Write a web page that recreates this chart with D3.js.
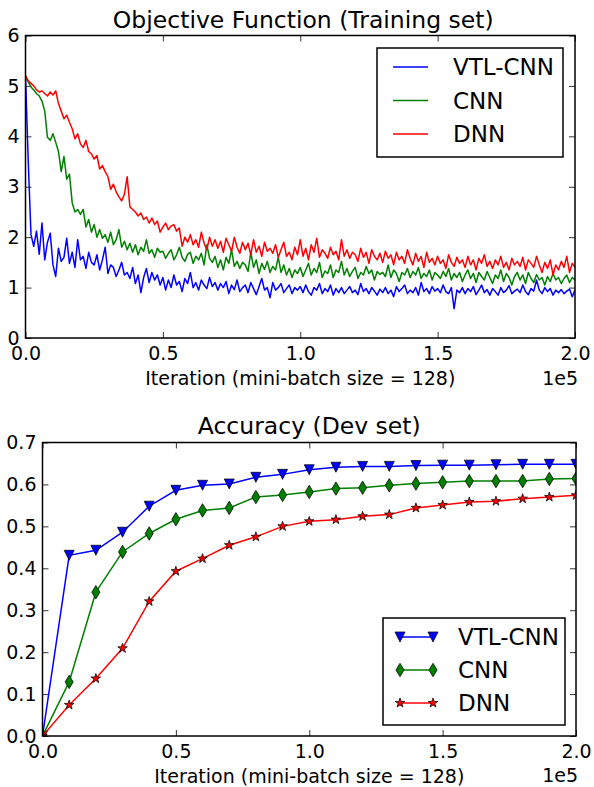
<!DOCTYPE html>
<html>
<head>
<meta charset="utf-8">
<style>
body { margin: 0; background: #fff; }
svg { display: block; }
</style>
</head>
<body>
<svg></svg>
<script src="https://cdn.jsdelivr.net/npm/d3@7"></script>
<script>
// training loss, one value every 1000 iterations (0 .. 200000)
var lossStep = 1000;
var vtlLoss = [
  5.20, 3.50, 2.05, 1.82, 2.12, 1.66, 2.28, 1.55, 1.90, 2.08,
  1.45, 1.22, 1.78, 1.52, 1.60, 1.98, 1.48, 1.70, 1.40, 1.95,
  1.55, 1.62, 1.38, 1.70, 1.50, 1.45, 1.65, 1.35, 1.55, 1.80,
  1.28, 1.45, 1.40, 1.22, 1.35, 1.50, 1.25, 1.30, 1.18, 1.40,
  1.08, 1.25, 0.90, 1.20, 1.38, 1.10, 1.30, 1.15, 1.25, 1.05,
  1.20, 0.95, 1.15, 1.00, 1.25, 1.05, 1.12, 0.92, 1.18, 1.08,
  1.30, 1.00, 1.10, 0.95, 1.15, 1.05, 0.98, 1.20, 1.02, 1.10,
  0.95, 1.08, 1.00, 1.12, 0.88, 1.05, 0.96, 1.15, 0.92, 1.00,
  1.05, 0.90, 1.10, 0.98, 0.86, 1.02, 1.18, 0.95, 1.00, 0.80,
  1.10, 0.95, 1.00, 1.08, 0.90, 0.98, 1.05, 0.88, 1.00, 0.95,
  1.02, 0.90, 1.05, 0.92, 0.85, 1.00, 0.95, 1.08, 0.88, 0.98,
  0.92, 1.05, 0.85, 0.98, 0.90, 1.00, 0.88, 0.95, 1.02, 0.90,
  0.95, 0.86, 1.08, 0.92, 0.98, 0.88, 1.00, 0.93, 0.85, 0.97,
  0.90, 1.00, 0.88, 0.95, 0.82, 1.02, 0.92, 0.98, 1.05, 0.88,
  0.95, 0.90, 1.00, 0.85, 1.10, 0.92, 0.98, 0.88, 1.02, 0.93,
  0.98, 0.90, 1.05, 0.92, 0.88, 1.00, 0.58, 0.95, 0.90, 1.00,
  0.88, 0.98, 0.92, 1.02, 0.86, 0.95, 1.05, 0.90, 0.96, 0.85,
  0.98, 0.92, 0.85, 1.00, 0.90, 0.95, 1.04, 0.88, 0.93, 0.97,
  0.90, 1.05, 0.92, 0.86, 0.98, 0.93, 1.15, 0.95, 0.88, 1.00,
  0.92, 0.98, 0.85, 0.95, 0.90, 0.96, 0.88, 0.93, 0.97, 0.82,
  0.95
];
var cnnLoss = [
  5.20, 5.08, 4.98, 4.92, 4.85, 4.80, 4.70, 4.50, 3.98, 3.92,
  4.05, 3.88, 3.70, 3.30, 3.60, 3.15, 3.25, 2.68, 2.50, 2.55,
  2.45, 2.55, 2.20, 2.35, 2.10, 2.25, 2.00, 2.15, 1.98, 2.05,
  1.90, 2.10, 1.85, 1.95, 2.15, 1.80, 1.92, 1.75, 1.88, 1.70,
  1.85, 1.65, 1.80, 1.72, 1.95, 1.68, 1.75, 1.60, 1.78, 1.70,
  1.72, 1.58, 1.68, 1.75, 1.55, 1.65, 1.80, 1.60, 1.52, 1.66,
  1.70, 1.48, 1.62, 1.55, 1.68, 1.45, 1.85, 1.58, 1.50, 1.62,
  1.40, 1.55, 1.35, 1.60, 1.48, 1.75, 1.42, 1.52, 1.38, 1.50,
  1.45, 1.32, 1.70, 1.40, 1.55, 1.28, 1.48, 1.36, 1.52, 1.30,
  1.42, 1.35, 1.60, 1.30, 1.45, 1.25, 1.38, 1.20, 1.35, 1.28,
  1.40, 1.22, 1.35, 1.48, 1.25, 1.38, 1.30, 1.50, 1.20, 1.33,
  1.28, 1.45, 1.20, 1.35, 1.30, 1.52, 1.25, 1.38, 1.22, 1.32,
  1.40, 1.18, 1.30, 1.25, 1.42, 1.28, 1.35, 1.15, 1.32, 1.26,
  1.30, 1.22, 1.45, 1.20, 1.35, 1.28, 1.12, 1.30, 1.25, 1.38,
  1.20, 1.32, 1.25, 1.40, 1.18, 1.28, 1.22, 1.35, 1.15, 1.30,
  1.25, 1.18, 1.32, 1.22, 1.38, 1.15, 1.28, 1.20, 1.30, 1.12,
  1.25, 1.35, 1.18, 1.28, 1.10, 1.30, 1.22, 1.15, 1.32, 1.20,
  1.08, 1.25, 1.18, 1.35, 1.12, 1.28, 1.20, 1.05, 1.22, 1.30,
  1.15, 1.25, 1.08, 1.30, 1.18, 1.10, 1.26, 1.15, 1.20, 1.05,
  1.22, 1.12, 1.28, 1.15, 1.20, 1.08, 1.18, 1.25, 1.10, 1.20,
  1.15
];
var dnnLoss = [
  5.20, 5.10, 5.05, 5.00, 4.92, 4.88, 4.90, 4.85, 4.80, 4.88,
  4.82, 4.90, 4.65, 4.50, 4.35, 4.42, 4.28, 4.15, 3.95, 4.05,
  3.85, 3.78, 3.92, 3.70, 3.65, 3.55, 3.62, 3.35, 3.42, 3.30,
  3.20, 2.95, 3.05, 2.90, 2.80, 2.72, 2.85, 3.20, 2.60, 2.55,
  2.50, 2.42, 2.48, 2.35, 2.40, 2.28, 2.38, 2.25, 2.32, 2.10,
  2.20, 2.28, 2.15, 2.22, 2.25, 2.12, 2.18, 1.82, 2.00, 1.90,
  2.05, 1.85, 1.95, 1.80, 2.10, 1.88, 1.75, 2.00, 1.82, 1.95,
  1.78, 1.92, 1.70, 1.98, 1.85, 1.72, 2.00, 1.80, 1.68, 1.90,
  1.75, 1.88, 1.65, 1.95, 1.70, 1.82, 1.62, 1.90, 1.72, 1.78,
  1.68, 1.85, 1.60, 1.75, 1.90, 1.62, 1.70, 1.55, 1.80, 1.65,
  1.95, 1.62, 1.78, 1.55, 1.85, 1.70, 1.98, 1.60, 1.75, 1.68,
  1.58, 1.80, 1.65, 1.72, 1.55, 1.95, 1.62, 1.75, 1.58, 1.70,
  1.65, 1.52, 1.78, 1.60, 1.70, 1.48, 1.75, 1.62, 1.55, 1.68,
  1.50, 1.72, 1.58, 1.65, 1.45, 1.70, 1.55, 1.62, 1.48, 1.75,
  1.58, 1.45, 1.68, 1.52, 1.62, 1.40, 1.70, 1.50, 1.58, 1.45,
  1.62, 1.48, 1.55, 1.38, 1.65, 1.50, 1.42, 1.60, 1.48, 1.55,
  1.40, 1.62, 1.45, 1.55, 1.35, 1.58, 1.48, 1.65, 1.42, 1.52,
  1.38, 1.55, 1.45, 1.62, 1.40, 1.50, 1.35, 1.58, 1.45, 1.52,
  1.42, 1.60, 1.35, 1.55, 1.48, 1.40, 1.62, 1.45, 1.30, 1.50,
  1.38, 1.55, 1.25, 1.45, 1.35, 1.52, 1.40, 1.62, 1.30, 1.48,
  1.40
];

// dev accuracy
var evalIters = [0, 10000, 20000, 30000, 40000, 50000, 60000, 70000, 80000, 90000, 100000,
  110000, 120000, 130000, 140000, 150000, 160000, 170000, 180000, 190000, 200000];
var vtlAcc = [0.0, 0.431, 0.443, 0.486, 0.548, 0.586, 0.598, 0.601, 0.617, 0.624, 0.635,
  0.641, 0.643, 0.643, 0.645, 0.646, 0.646, 0.647, 0.648, 0.648, 0.648];
var cnnAcc = [0.0, 0.129, 0.343, 0.439, 0.483, 0.517, 0.538, 0.544, 0.570, 0.575, 0.582,
  0.590, 0.592, 0.598, 0.602, 0.605, 0.608, 0.608, 0.608, 0.613, 0.614];
var dnnAcc = [0.0, 0.074, 0.137, 0.209, 0.321, 0.393, 0.423, 0.455, 0.475, 0.500, 0.512,
  0.516, 0.524, 0.528, 0.544, 0.551, 0.558, 0.560, 0.566, 0.570, 0.574];

var seriesNames = ["VTL-CNN", "CNN", "DNN"];
var seriesColors = ["#0000ff", "#008000", "#ff0000"];
var xTicks = [0, 50000, 100000, 150000, 200000];
var lossTicks = [0, 1, 2, 3, 4, 5, 6];
var accTicks = [0.0, 0.1, 0.2, 0.3, 0.4, 0.5, 0.6, 0.7];

var font = "'DejaVu Sans', sans-serif";
var tickSize = 19, titleSize = 23.5, legendSize = 23;
var svg = d3.select("svg").attr("width", 594).attr("height", 787)
    .style("font-family", font);

var panelA = {left: 25.5, right: 575, top: 35.5, bottom: 338};
var panelB = {left: 42.5, right: 576, top: 442.5, bottom: 736};

// marker shapes (matplotlib classic, markersize 6pt)
function triDown(s){
    var h = s/2;
    return "M0," + h + "L" + (-h) + "," + (-h) + "L" + h + "," + (-h) + "Z";
}
function thinDiamond(s){
    var h = 0.707*s, w = 0.424*s;
    return "M0," + (-h) + "L" + w + ",0L0," + h + "L" + (-w) + ",0Z";
}
function star(s){
    var ro = s/2, ri = ro*0.381966, pts = [];
    for(var i = 0; i < 10; i++){
        var r = i % 2 == 0 ? ro : ri;
        var a = -Math.PI/2 + i*Math.PI/5;
        pts.push((r*Math.cos(a)).toFixed(2) + "," + (r*Math.sin(a)).toFixed(2));
    }
    return "M" + pts.join("L") + "Z";
}
var markers = [triDown(10), thinDiamond(9.5), star(10)];

function drawAxes(p, xScale, yScale, yTicks, yFormat, id){
    var g = svg.append("g");
    g.append("g").attr("transform", "translate(0," + p.bottom + ")")
        .call(d3.axisBottom(xScale).tickValues(xTicks).tickSizeInner(-6).tickSizeOuter(0)
            .tickPadding(8.5).tickFormat(function(d){ return (d/1e5).toFixed(1); }));
    g.append("g").attr("transform", "translate(0," + p.top + ")")
        .call(d3.axisTop(xScale).tickValues(xTicks).tickSizeInner(-6).tickSizeOuter(0).tickFormat(""));
    g.append("g").attr("transform", "translate(" + p.left + ",0)")
        .call(d3.axisLeft(yScale).tickValues(yTicks).tickSizeInner(-6).tickSizeOuter(0)
            .tickPadding(6).tickFormat(yFormat));
    g.append("g").attr("transform", "translate(" + p.right + ",0)")
        .call(d3.axisRight(yScale).tickValues(yTicks).tickSizeInner(-6).tickSizeOuter(0).tickFormat(""));
    g.selectAll(".domain").remove();
    g.selectAll("g").attr("font-family", font).attr("font-size", tickSize);
    g.selectAll(".tick line").attr("stroke", "#000").attr("stroke-width", 0.8);
    g.selectAll(".tick text").attr("fill", "#000");

    svg.append("clipPath").attr("id", id)
        .append("rect")
        .attr("x", p.left).attr("y", p.top)
        .attr("width", p.right - p.left).attr("height", p.bottom - p.top);
}

function drawFrame(p){
    svg.append("rect")
        .attr("x", p.left).attr("y", p.top)
        .attr("width", p.right - p.left).attr("height", p.bottom - p.top)
        .attr("fill", "none").attr("stroke", "#000").attr("stroke-width", 1.5);
}

// ---- top: objective function ----
var xA = d3.scaleLinear().domain([0, 200000]).range([panelA.left, panelA.right]);
var yA = d3.scaleLinear().domain([0, 6]).range([panelA.bottom, panelA.top]);
drawAxes(panelA, xA, yA, lossTicks, d3.format("d"), "clipA");

var lossLine = d3.line()
    .x(function(d, i){ return xA(i*lossStep); })
    .y(function(d){ return yA(d); });

[vtlLoss, cnnLoss, dnnLoss].forEach(function(s, k){
    svg.append("path")
        .datum(s)
        .attr("clip-path", "url(#clipA)")
        .attr("d", lossLine)
        .attr("fill", "none")
        .attr("stroke", seriesColors[k])
        .attr("stroke-width", 1.5)
        .attr("stroke-linejoin", "round");
});
drawFrame(panelA);

svg.append("text").text("Objective Function (Training set)")
    .attr("x", (panelA.left + panelA.right)/2 + 3).attr("y", 28)
    .attr("text-anchor", "middle").attr("font-size", titleSize);
svg.append("text").text("Iteration (mini-batch size = 128)")
    .attr("x", (panelA.left + panelA.right)/2).attr("y", 385)
    .attr("text-anchor", "middle").attr("font-size", tickSize);
svg.append("text").text("1e5")
    .attr("x", panelA.right + 3).attr("y", 385)
    .attr("text-anchor", "end").attr("font-size", tickSize);

var legA = svg.append("g");
legA.append("rect").attr("x", 377).attr("y", 48).attr("width", 186).attr("height", 109)
    .attr("fill", "#fff").attr("stroke", "#000").attr("stroke-width", 1.5);
seriesNames.forEach(function(name, k){
    var y = 67 + k*33.5;
    legA.append("line").attr("x1", 393).attr("x2", 428).attr("y1", y).attr("y2", y)
        .attr("stroke", seriesColors[k]).attr("stroke-width", 1.5);
    legA.append("text").text(name).attr("x", 453).attr("y", y).attr("dy", "0.36em")
        .attr("font-size", legendSize);
});

// ---- bottom: accuracy ----
var xB = d3.scaleLinear().domain([0, 200000]).range([panelB.left, panelB.right]);
var yB = d3.scaleLinear().domain([0, 0.7]).range([panelB.bottom, panelB.top]);
drawAxes(panelB, xB, yB, accTicks, d3.format(".1f"), "clipB");

var accLine = d3.line()
    .x(function(d, i){ return xB(evalIters[i]); })
    .y(function(d){ return yB(d); });

[vtlAcc, cnnAcc, dnnAcc].forEach(function(s, k){
    var g = svg.append("g").attr("clip-path", "url(#clipB)");
    g.append("path")
        .datum(s)
        .attr("d", accLine)
        .attr("fill", "none")
        .attr("stroke", seriesColors[k])
        .attr("stroke-width", 1.5);
    g.selectAll(".mk")
        .data(s)
        .enter()
        .append("path")
        .attr("transform", function(d, i){ return "translate(" + xB(evalIters[i]) + "," + yB(d) + ")"; })
        .attr("d", markers[k])
        .attr("fill", seriesColors[k])
        .attr("stroke", "#000")
        .attr("stroke-width", 0.75);
});
drawFrame(panelB);

svg.append("text").text("Accuracy (Dev set)")
    .attr("x", (panelB.left + panelB.right)/2).attr("y", 434)
    .attr("text-anchor", "middle").attr("font-size", titleSize);
svg.append("text").text("Iteration (mini-batch size = 128)")
    .attr("x", (panelB.left + panelB.right)/2).attr("y", 783)
    .attr("text-anchor", "middle").attr("font-size", tickSize);
svg.append("text").text("1e5")
    .attr("x", panelB.right + 2).attr("y", 782)
    .attr("text-anchor", "end").attr("font-size", tickSize);

var legB = svg.append("g");
legB.append("rect").attr("x", 383).attr("y", 618).attr("width", 182).attr("height", 107)
    .attr("fill", "#fff").attr("stroke", "#000").attr("stroke-width", 1.5);
seriesNames.forEach(function(name, k){
    var y = 637 + k*33;
    legB.append("line").attr("x1", 400).attr("x2", 433).attr("y1", y).attr("y2", y)
        .attr("stroke", seriesColors[k]).attr("stroke-width", 1.5);
    [400, 433].forEach(function(x){
        legB.append("path").attr("transform", "translate(" + x + "," + y + ")")
            .attr("d", markers[k]).attr("fill", seriesColors[k])
            .attr("stroke", "#000").attr("stroke-width", 0.75);
    });
    legB.append("text").text(name).attr("x", 458).attr("y", y).attr("dy", "0.36em")
        .attr("font-size", legendSize);
});
</script>
</body>
</html>
